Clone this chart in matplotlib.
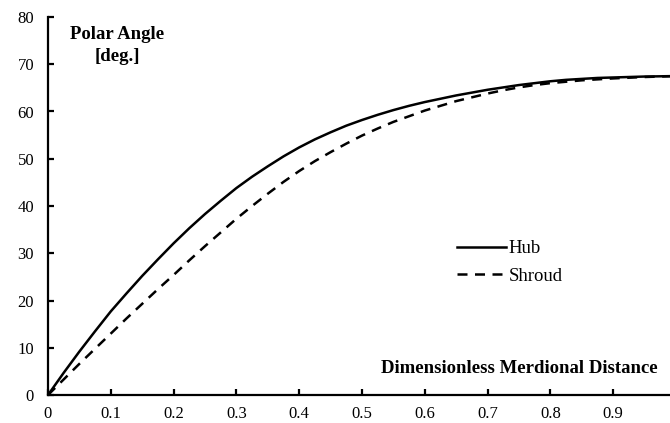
import matplotlib.pyplot as plt

plt.rcParams['font.family'] = ['Liberation Serif', 'DejaVu Serif']

# meridional position vs polar angle for hub and shroud
m = [0.0, 0.025, 0.05, 0.075, 0.1, 0.125, 0.15, 0.175, 0.2, 0.225, 0.25,
     0.275, 0.3, 0.325, 0.35, 0.375, 0.4, 0.425, 0.45, 0.475, 0.5,
     0.525, 0.55, 0.575, 0.6, 0.625, 0.65, 0.675, 0.7, 0.725, 0.75,
     0.775, 0.8, 0.825, 0.85, 0.875, 0.9, 0.925, 0.95, 0.975, 1.0]
hub = [0.0, 4.7, 9.2, 13.5, 17.7, 21.5, 25.2, 28.7, 32.1, 35.3, 38.3,
       41.1, 43.8, 46.2, 48.4, 50.5, 52.4, 54.1, 55.6, 57.0, 58.2,
       59.3, 60.3, 61.2, 62.0, 62.7, 63.4, 64.0, 64.6, 65.1, 65.6,
       66.0, 66.4, 66.7, 66.9, 67.1, 67.2, 67.3, 67.4, 67.45, 67.5]
shroud = [0.0, 3.3, 6.6, 9.8, 13.0, 16.2, 19.3, 22.4, 25.4, 28.5, 31.5,
          34.4, 37.3, 40.0, 42.6, 45.1, 47.4, 49.5, 51.4, 53.2, 54.9,
          56.4, 57.8, 59.0, 60.2, 61.2, 62.2, 63.0, 63.8, 64.5, 65.1,
          65.6, 66.0, 66.3, 66.6, 66.8, 67.0, 67.15, 67.3, 67.4, 67.5]

xticks = [0, 0.1, 0.2, 0.3, 0.4, 0.5, 0.6, 0.7, 0.8, 0.9]
xticklabels = ['0', '0.1', '0.2', '0.3', '0.4', '0.5', '0.6', '0.7', '0.8', '0.9']
yticks = [0, 10, 20, 30, 40, 50, 60, 70, 80]

fig = plt.figure(figsize=(6.7, 4.23), dpi=100)
ax = fig.add_axes([48 / 670, 1 - 395 / 423, 628 / 670, 378 / 423])

ax.plot(m, hub, color='black', lw=1.8, label='Hub')
ax.plot(m, shroud, color='black', lw=1.8, linestyle=(0, (4, 3)), label='Shroud')

ax.set_xlim(0, 1)
ax.set_ylim(0, 80)
ax.set_xticks(xticks)
ax.set_xticklabels(xticklabels)
ax.set_yticks(yticks)

for side in ['top', 'right']:
    ax.spines[side].set_visible(False)
for side in ['left', 'bottom']:
    ax.spines[side].set_linewidth(1.6)
ax.tick_params(direction='in', length=4, width=1.6, labelsize=12)
ax.tick_params(axis='y', pad=10)
ax.tick_params(axis='x', pad=8)

fig.text(117 / 670, 1 - 26 / 423, 'Polar Angle\n[deg.]', ha='center', va='top',
         fontsize=13.5, fontweight='bold', linespacing=1.4)
fig.text(658 / 670, 1 - 368 / 423, 'Dimensionless Merdional Distance',
         ha='right', va='center', fontsize=13.5, fontweight='bold')

ax.legend(loc='upper left', bbox_to_anchor=(457 / 670, 1 - 240 / 423),
          bbox_transform=fig.transFigure, frameon=False, fontsize=13.5,
          handlelength=2.6, handletextpad=0.15, labelspacing=0.55,
          borderpad=0, borderaxespad=0)

fig.savefig('out.png', dpi=100)
